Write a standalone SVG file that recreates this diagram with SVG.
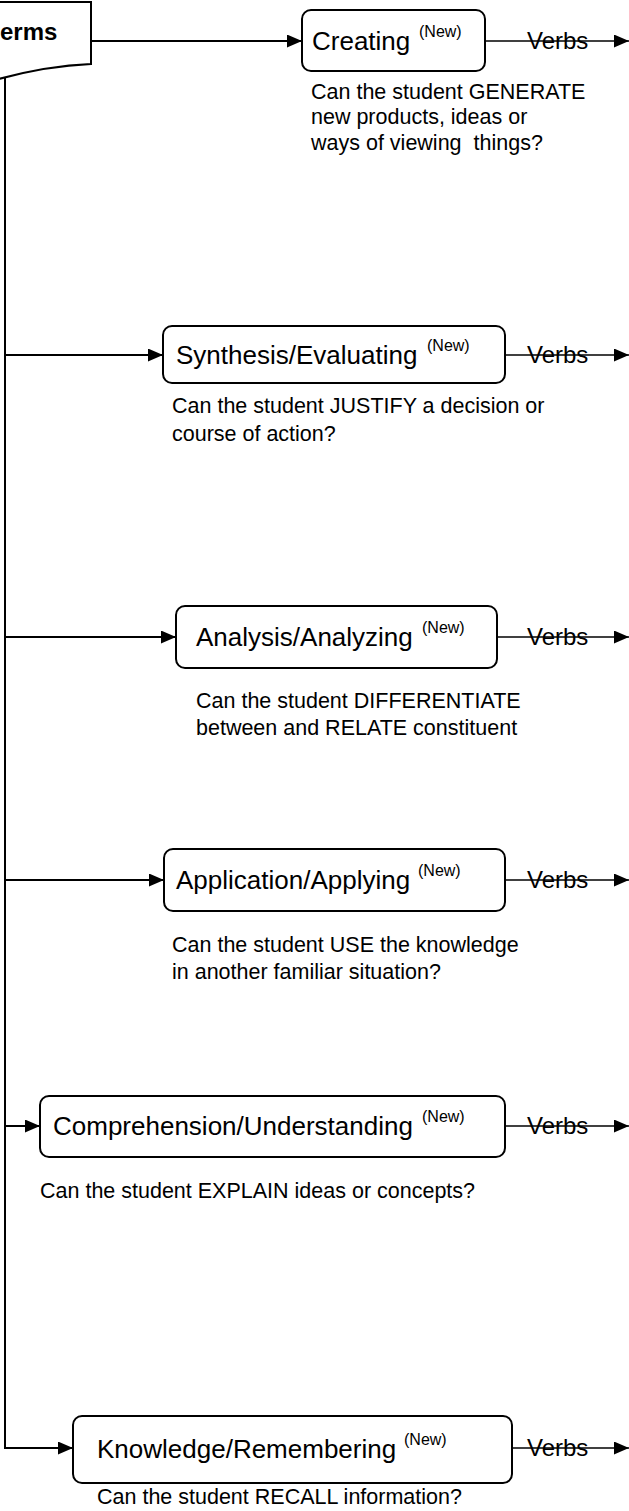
<svg xmlns="http://www.w3.org/2000/svg" width="629" height="1511" viewBox="0 0 629 1511">
<defs>
<style>
.box{fill:#fff;stroke:#000;stroke-width:2}
.ln{fill:none;stroke:#000;stroke-width:2}
.vl{fill:none;stroke:#000;stroke-width:1.6}
.t{font-family:"Liberation Sans",Arial,sans-serif;font-size:26px;fill:#000}
.n{font-family:"Liberation Sans",Arial,sans-serif;font-size:16px;fill:#000}
.d{font-family:"Liberation Sans",Arial,sans-serif;font-size:21.5px;fill:#000}
.v{font-family:"Liberation Sans",Arial,sans-serif;font-size:24px;fill:#000}
.b{font-family:"Liberation Sans",Arial,sans-serif;font-size:24px;font-weight:bold;fill:#000}
</style>
<marker id="ah" markerWidth="15" markerHeight="13" refX="15" refY="6.5" orient="auto" markerUnits="userSpaceOnUse"><path d="M0,0 L15,6.5 L0,13 Z" fill="#000"/></marker>
</defs>
<rect width="629" height="1511" fill="#fff"/>

<g id="connectors">
<path class="ln" d="M91,41 H302" marker-end="url(#ah)"/>
<path class="ln" d="M5,74 V1448 H73" marker-end="url(#ah)"/>
<path class="ln" d="M5,355 H163" marker-end="url(#ah)"/>
<path class="ln" d="M5,637 H176" marker-end="url(#ah)"/>
<path class="ln" d="M5,880 H164" marker-end="url(#ah)"/>
<path class="ln" d="M5,1126 H40" marker-end="url(#ah)"/>
<path class="vl" d="M485,41 H629" marker-end="url(#ah)"/>
<path class="vl" d="M505,355 H629" marker-end="url(#ah)"/>
<path class="vl" d="M497,637 H629" marker-end="url(#ah)"/>
<path class="vl" d="M505,880 H629" marker-end="url(#ah)"/>
<path class="vl" d="M505,1126 H629" marker-end="url(#ah)"/>
<path class="vl" d="M512,1448 H629" marker-end="url(#ah)"/>
<text class="v" x="527" y="49">Verbs</text>
<text class="v" x="527" y="363">Verbs</text>
<text class="v" x="527" y="645">Verbs</text>
<text class="v" x="527" y="888">Verbs</text>
<text class="v" x="527" y="1134">Verbs</text>
<text class="v" x="527" y="1456">Verbs</text>
</g>

<g id="terms">
<path class="box" d="M-5,2 H91 V64 Q45,66 -5,80 Z"/>
<text class="b" x="0" y="40">erms</text>
</g>

<g id="creating">
<rect class="box" x="302" y="10" width="183" height="61" rx="9"/>
<text class="t" x="312" y="50">Creating</text>
<text class="n" x="419" y="37">(New)</text>
<text class="d" x="311" y="99">Can the student GENERATE</text>
<text class="d" x="311" y="124">new products, ideas or</text>
<text class="d" x="311" y="150" xml:space="preserve">ways of viewing  things?</text>
</g>

<g id="synthesis">
<rect class="box" x="163" y="326" width="342" height="57" rx="9"/>
<text class="t" x="176" y="364">Synthesis/Evaluating</text>
<text class="n" x="427" y="351">(New)</text>
<text class="d" x="172" y="413">Can the student JUSTIFY a decision or</text>
<text class="d" x="172" y="441">course of action?</text>
</g>

<g id="analysis">
<rect class="box" x="176" y="606" width="321" height="62" rx="9"/>
<text class="t" x="196" y="646">Analysis/Analyzing</text>
<text class="n" x="422" y="633">(New)</text>
<text class="d" x="196" y="708">Can the student DIFFERENTIATE</text>
<text class="d" x="196" y="735">between and RELATE constituent</text>
</g>

<g id="application">
<rect class="box" x="164" y="849" width="341" height="62" rx="9"/>
<text class="t" x="176" y="889">Application/Applying</text>
<text class="n" x="418" y="876">(New)</text>
<text class="d" x="172" y="952">Can the student USE the knowledge</text>
<text class="d" x="172" y="979">in another familiar situation?</text>
</g>

<g id="comprehension">
<rect class="box" x="40" y="1096" width="465" height="61" rx="9"/>
<text class="t" x="53" y="1135">Comprehension/Understanding</text>
<text class="n" x="422" y="1122">(New)</text>
<text class="d" x="40" y="1198">Can the student EXPLAIN ideas or concepts?</text>
</g>

<g id="knowledge">
<rect class="box" x="73" y="1416" width="439" height="67" rx="9"/>
<text class="t" x="97" y="1458">Knowledge/Remembering</text>
<text class="n" x="404" y="1445">(New)</text>
<text class="d" x="97" y="1504">Can the student RECALL information?</text>
</g>
</svg>
